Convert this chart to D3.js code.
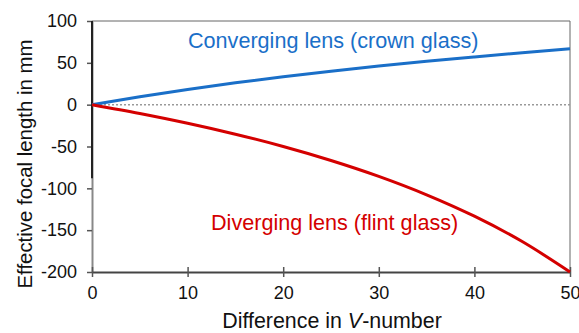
<!DOCTYPE html>
<html>
<head>
<meta charset="utf-8">
<script src="https://cdn.jsdelivr.net/npm/d3@7"></script>
<style>
    body { margin: 0; background: #fff; }
    svg { display: block; font-family: "Liberation Sans", Arial, sans-serif; }
</style>
</head>
<body>
<div id="chart"></div>
<script>
// Values
const vDiff = [0, 5, 10, 15, 20, 25, 30, 35, 40, 45, 50];
const converging = [0, 9.5, 18.2, 26.1, 33.3, 40, 46.2, 51.9, 57.1, 62.1, 66.7];
const diverging = [0, -10.5, -22.2, -35.3, -50, -66.7, -85.7, -107.7, -133.3, -163.6, -200];
const xTicks = [0, 10, 20, 30, 40, 50];
const yTicks = [100, 50, 0, -50, -100, -150, -200];

const width = 579, height = 333;
const margin = { top: 21, right: 9, bottom: 61, left: 92 };

const svg = d3.select('#chart')
    .append('svg')
    .attr('width', width)
    .attr('height', height);

const x = d3.scaleLinear().domain([0, 50]).range([margin.left, width - margin.right]);
const y = d3.scaleLinear().domain([-200, 100]).range([height - margin.bottom, margin.top]);

// Frame (top and right)
svg.append('path')
    .attr('d', `M${x(0)},${y(100)}H${x(50)}V${y(-200)}`)
    .attr('fill', 'none')
    .attr('stroke', '#666')
    .attr('stroke-width', 1);

// Zero line
svg.append('line')
    .attr('x1', x(0)).attr('x2', x(50))
    .attr('y1', y(0)).attr('y2', y(0))
    .attr('stroke', '#999')
    .attr('stroke-width', 1.5)
    .attr('stroke-dasharray', '2,2');

// Y axis
const yAxis = svg.append('g')
    .attr('transform', `translate(${x(0)},0)`)
    .call(d3.axisLeft(y).tickValues(yTicks).tickFormat(d => String(d)).tickSize(5).tickSizeOuter(0));
yAxis.select('.domain').attr('stroke', '#888').attr('stroke-width', 2);
yAxis.selectAll('.tick line').attr('stroke', '#555').attr('stroke-width', 1.5);
yAxis.selectAll('.tick text')
    .attr('x', -15)
    .style('font-size', '18px')
    .style('font-family', '"Liberation Sans", Arial, sans-serif')
    .attr('fill', '#111');

// darker upper part of the left spine
svg.append('line')
    .attr('x1', x(0)).attr('x2', x(0))
    .attr('y1', y(100)).attr('y2', y(-88))
    .attr('stroke', '#222')
    .attr('stroke-width', 2);

// X axis
const xAxis = svg.append('g')
    .attr('transform', `translate(0,${y(-200)})`)
    .call(d3.axisBottom(x).tickValues(xTicks).tickSize(5).tickSizeOuter(0));
xAxis.select('.domain').attr('stroke', '#444').attr('stroke-width', 2);
xAxis.selectAll('.tick line').attr('y1', -5).attr('stroke', '#555').attr('stroke-width', 1.5);
xAxis.selectAll('.tick text')
    .attr('y', 14)
    .style('font-size', '18px')
    .style('font-family', '"Liberation Sans", Arial, sans-serif')
    .attr('fill', '#111');

// Curves
const line = d3.line()
    .x((d, i) => x(vDiff[i]))
    .y(d => y(d))
    .curve(d3.curveMonotoneX);

svg.append('path')
    .datum(converging)
    .attr('fill', 'none')
    .attr('stroke', '#1a6fc8')
    .attr('stroke-width', 3)
    .attr('d', line);

svg.append('path')
    .datum(diverging)
    .attr('fill', 'none')
    .attr('stroke', '#d40000')
    .attr('stroke-width', 3)
    .attr('d', line);

// Series labels
svg.append('text')
    .attr('x', 188).attr('y', 48)
    .attr('fill', '#1a6fc8')
    .style('font-size', '21.6px')
    .text('Converging lens (crown glass)');

svg.append('text')
    .attr('x', 211).attr('y', 230)
    .attr('fill', '#d40000')
    .style('font-size', '21.6px')
    .text('Diverging lens (flint glass)');

// Axis titles
const xTitle = svg.append('text')
    .attr('x', 332).attr('y', 328)
    .attr('text-anchor', 'middle')
    .attr('fill', '#111')
    .style('font-size', '21.4px');
xTitle.append('tspan').text('Difference in ');
xTitle.append('tspan').style('font-style', 'italic').text('V');
xTitle.append('tspan').text('-number');

svg.append('text')
    .attr('transform', 'translate(32,164) rotate(-90)')
    .attr('text-anchor', 'middle')
    .attr('fill', '#111')
    .style('font-size', '20.4px')
    .text('Effective focal length in mm');
</script>
</body>
</html>
